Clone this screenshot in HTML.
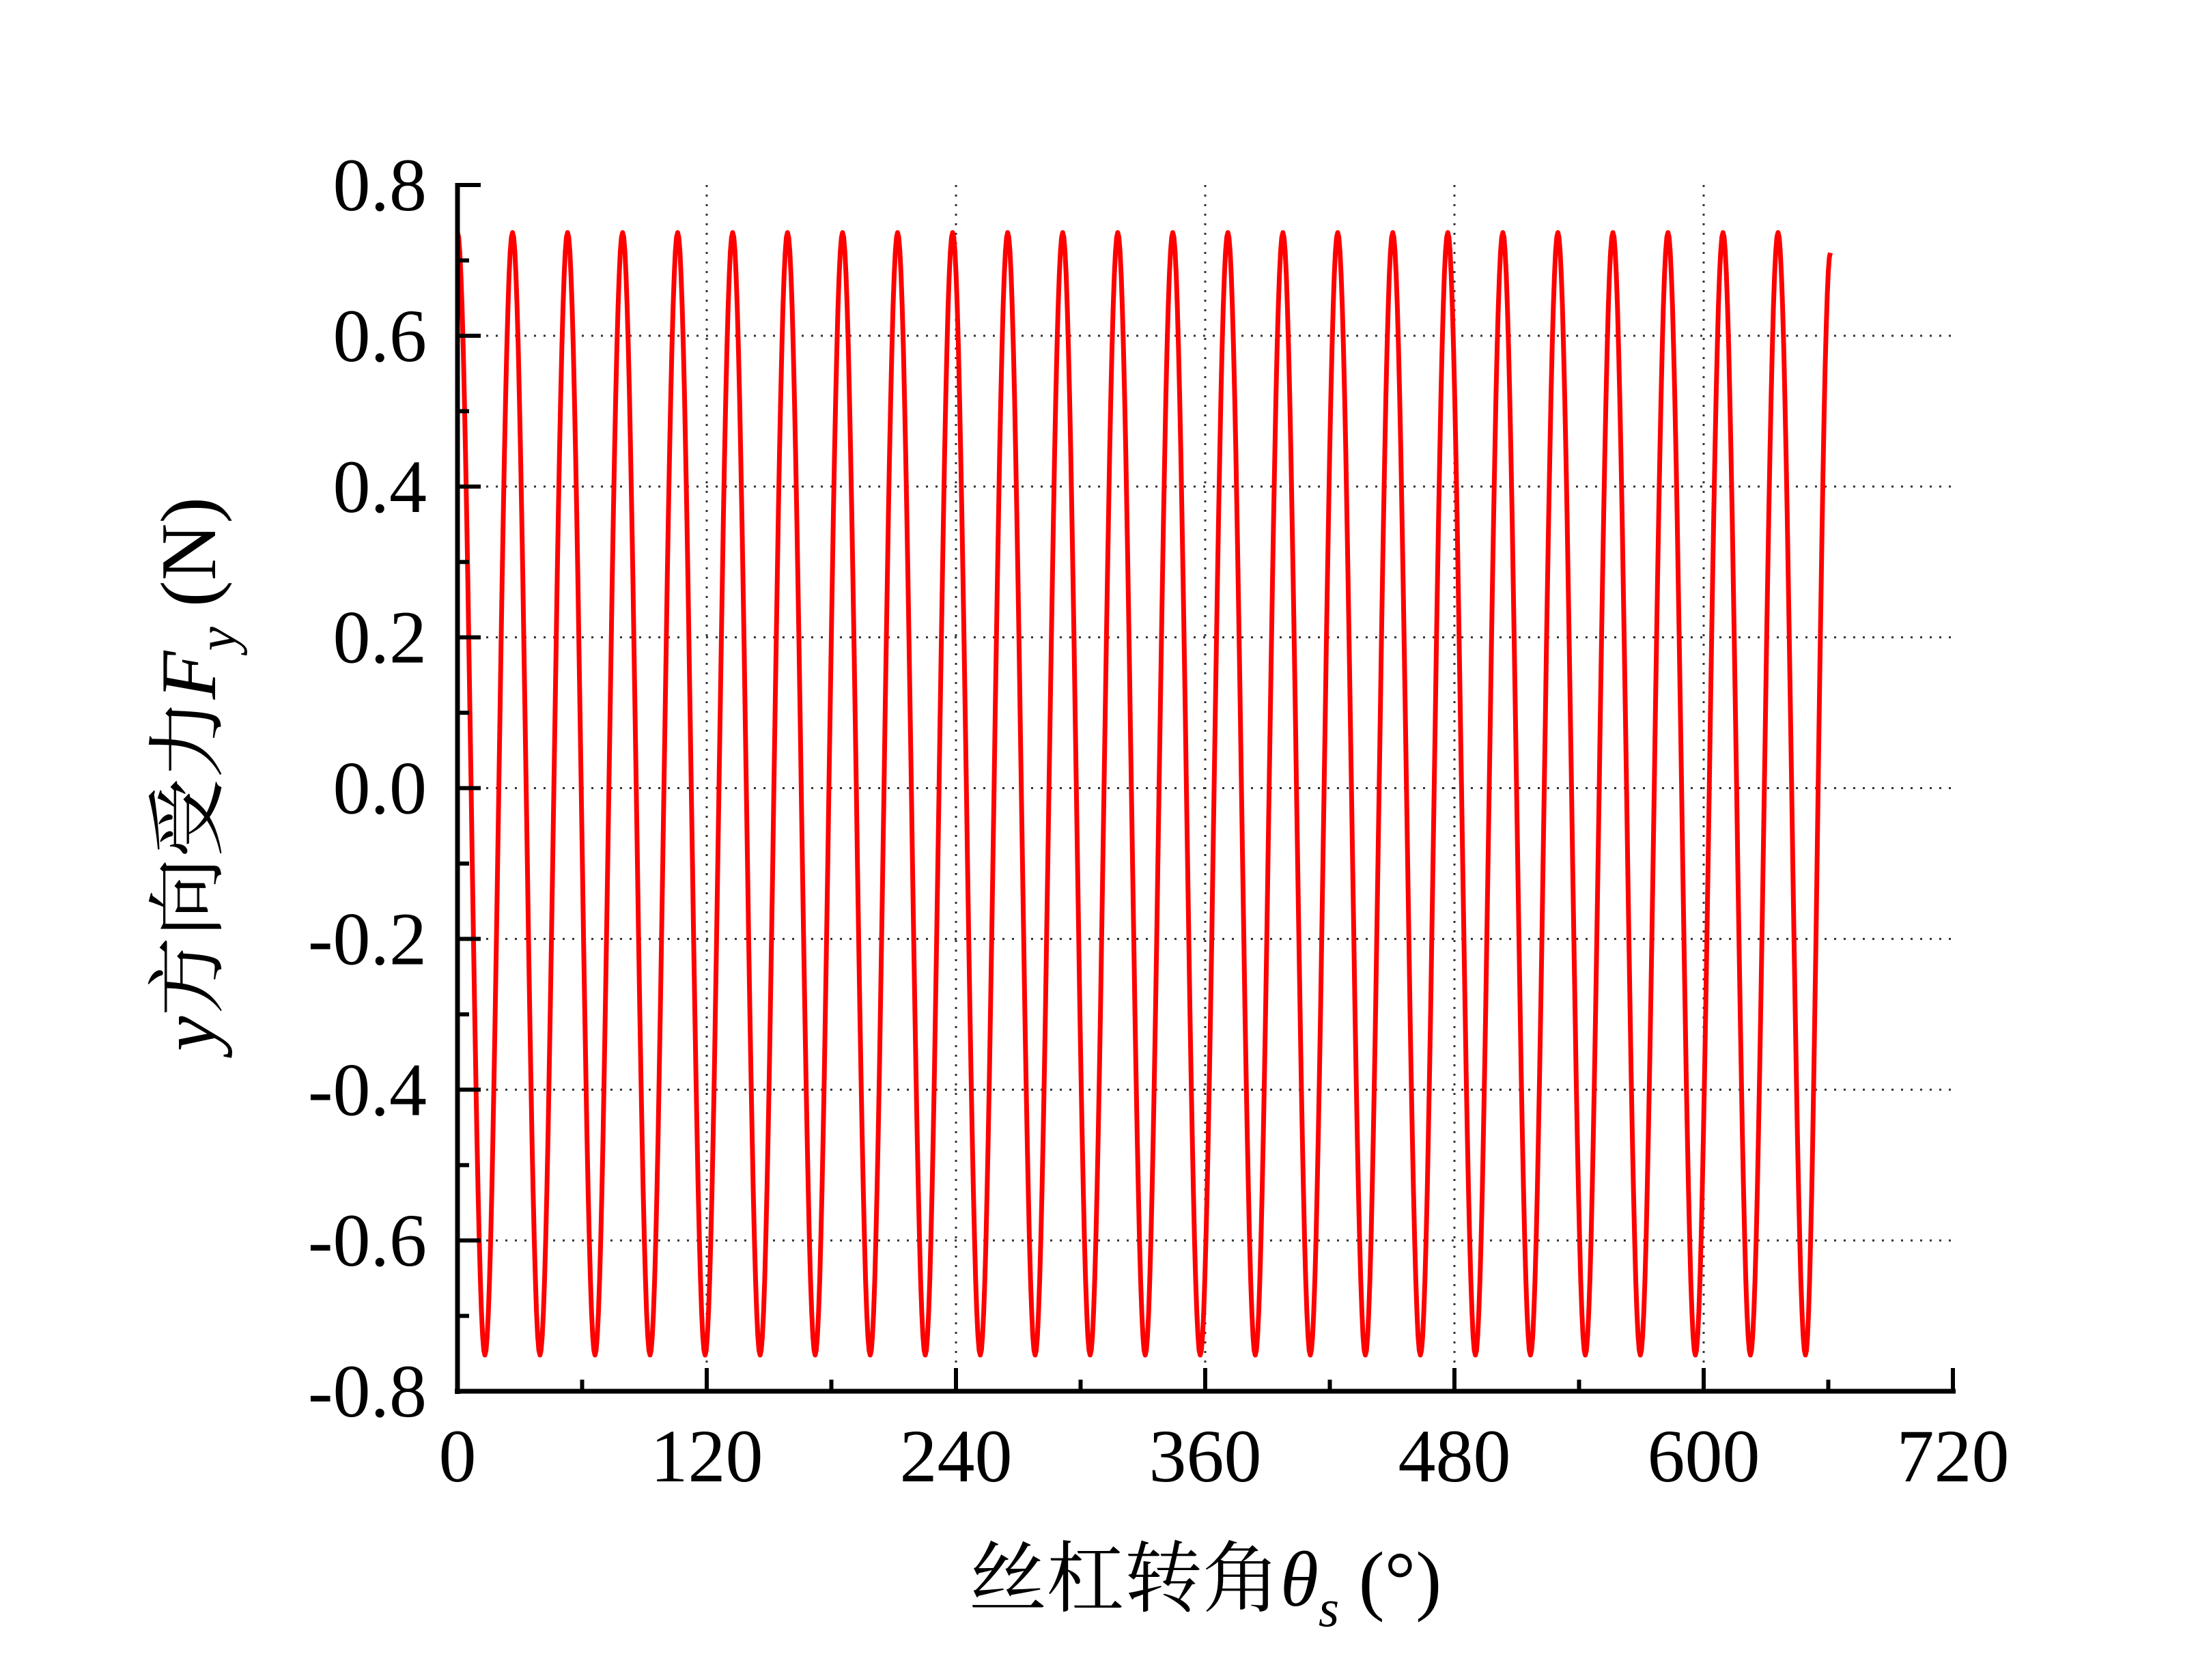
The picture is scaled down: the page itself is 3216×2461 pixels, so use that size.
<!DOCTYPE html>
<html><head><meta charset="utf-8"><style>
html,body{margin:0;padding:0;background:#fff;}
svg{display:block;}
text{font-family:"Liberation Serif","Noto Serif CJK SC",serif;fill:#000;}
</style></head><body>
<svg id="chart" width="3216" height="2461" viewBox="0 0 3216 2461" xmlns="http://www.w3.org/2000/svg">
<g id="grid"></g>
<g id="series"></g>
<g id="axes"></g>
<text x="1765" y="2352" font-size="114" text-anchor="middle">丝杠转角<tspan font-style="italic">θ</tspan><tspan font-style="italic" font-size="78" dy="30">s</tspan><tspan dy="-30"> (°)</tspan></text>
<text transform="translate(315,1134) rotate(-90)" font-size="116" text-anchor="middle"><tspan font-style="italic">y</tspan>方向受力<tspan font-style="italic">F</tspan><tspan font-style="italic" font-size="80" dy="30">y</tspan><tspan dy="-30"> (N)</tspan></text>
</svg>
<script>
const xTicks=[0,120,240,360,480,600,720];
const yTicks=[0.8,0.6,0.4,0.2,0.0,-0.2,-0.4,-0.6,-0.8];
const yTickLabels=["0.8","0.6","0.4","0.2","0.0","-0.2","-0.4","-0.6","-0.8"];
const extremaAngles=[0,13.2,26.5,39.7,53.0,66.2,79.5,92.7,106.0,119.2,132.5,145.7,158.9,172.2,185.4,198.7,211.9,225.2,238.4,251.7,264.9,278.1,291.4,304.6,317.9,331.1,344.4,357.6,370.9,384.1,397.4,410.6,423.8,437.1,450.3,463.6,476.8,490.1,503.3,516.6,529.8,543.0,556.3,569.5,582.8,596.0,609.3,622.5,635.8,649.0,661.0];
const extremaValues=[0.737,-0.752,0.737,-0.752,0.737,-0.752,0.737,-0.752,0.737,-0.752,0.737,-0.752,0.737,-0.752,0.737,-0.752,0.737,-0.752,0.737,-0.752,0.737,-0.752,0.737,-0.752,0.737,-0.752,0.737,-0.752,0.737,-0.752,0.737,-0.752,0.737,-0.752,0.737,-0.752,0.737,-0.752,0.737,-0.752,0.737,-0.752,0.737,-0.752,0.737,-0.752,0.737,-0.752,0.737,-0.752,0.71];

const X0=670,X1=2860,Y0=2038,Y1=271;
const xs=v=>X0+(v-0)/(720-0)*(X1-X0);
const ys=v=>Y0-(v+0.8)/1.6*(Y0-Y1);
const NS="http://www.w3.org/2000/svg";
function mk(tag,parent,attrs){const e=document.createElementNS(NS,tag);for(const k in attrs)e.setAttribute(k,attrs[k]);parent.appendChild(e);return e;}
const grid=document.getElementById('grid'),axes=document.getElementById('axes'),series=document.getElementById('series');

yTicks.forEach(v=>{if(Math.abs(v)<0.79){
 const l=mk('line',grid,{x1:X0,x2:X1,y1:ys(v),y2:ys(v),stroke:'#333','stroke-width':3,'stroke-dasharray':'3 11'});
 
 
}});
xTicks.forEach(v=>{if(v>0&&v<720){
 const l=mk('line',grid,{x1:xs(v),x2:xs(v),y1:Y1,y2:Y0,stroke:'#333','stroke-width':3,'stroke-dasharray':'3 11'});
 
 
}});

let d='';
for(let i=0;i<extremaAngles.length-1;i++){
 const a0=extremaAngles[i],a1=extremaAngles[i+1],v0=extremaValues[i],v1=extremaValues[i+1];
 const n=24;
 for(let j=0;j<=n;j++){
  if(i>0&&j===0)continue;
  const t=j/n,a=a0+(a1-a0)*t,v=v0+(v1-v0)*(1-Math.cos(Math.PI*t))/2;
  d+=(d?'L':'M')+xs(a).toFixed(1)+','+ys(v).toFixed(1);
 }
}
const p=mk('path',series,{d:d,fill:'none',stroke:'#ff0000','stroke-width':7,'stroke-linejoin':'round'});



const ya=mk('line',axes,{x1:X0,x2:X0,y1:Y1-3,y2:Y0+4,stroke:'#000','stroke-width':7});


const xa=mk('line',axes,{x1:X0-4,x2:X1+4,y1:Y0,y2:Y0,stroke:'#000','stroke-width':7});


yTicks.forEach((v,i)=>{
 const t=mk('line',axes,{x1:X0,x2:X0+34,y1:ys(v),y2:ys(v),stroke:'#000','stroke-width':6});
 
 
 if(i<yTicks.length-1){const m=mk('line',axes,{x1:X0,x2:X0+17,y1:ys(v-0.1),y2:ys(v-0.1),stroke:'#000','stroke-width':6});
  
  }
 const lb=mk('text',axes,{x:X0-45,y:ys(v)+37,'font-size':110,'text-anchor':'end'});
 lb.textContent=yTickLabels[i];
 
 
});
xTicks.forEach((v,i)=>{
 const t=mk('line',axes,{x1:xs(v),x2:xs(v),y1:Y0,y2:Y0-34,stroke:'#000','stroke-width':6});
 
 
 if(i<xTicks.length-1){const m=mk('line',axes,{x1:xs(v+60),x2:xs(v+60),y1:Y0,y2:Y0-17,stroke:'#000','stroke-width':6});
  
  }
 const lb=mk('text',axes,{x:xs(v),y:2170,'font-size':110,'text-anchor':'middle'});
 lb.textContent=String(v);
 
 
});
</script>
</body></html>
